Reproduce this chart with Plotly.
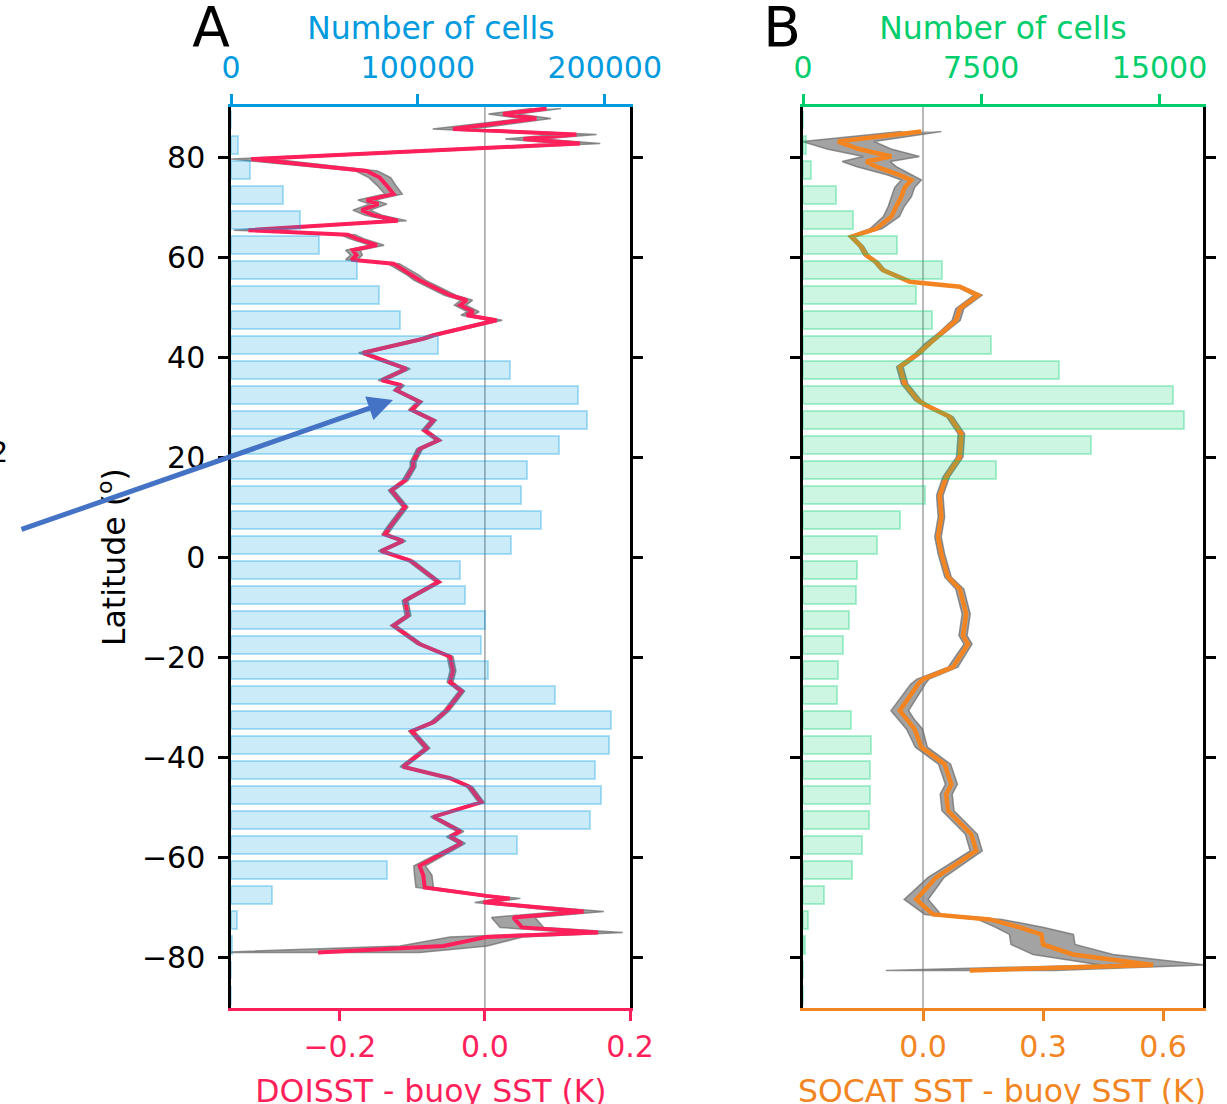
import plotly.graph_objects as go

# ---------------- data ----------------
BIN_LAT = [87.5, 82.5, 77.5, 72.5, 67.5, 62.5, 57.5, 52.5, 47.5, 42.5, 37.5, 32.5,
           27.5, 22.5, 17.5, 12.5, 7.5, 2.5, -2.5, -7.5, -12.5, -17.5, -22.5, -27.5,
           -32.5, -37.5, -42.5, -47.5, -52.5, -57.5, -62.5, -67.5, -72.5, -77.5, -82.5, -87.5]

DOI_COUNTS = [0, 3900, 10100, 27900, 36800, 46900, 67300, 79400, 90600, 110500, 149200, 185600,
              190500, 175400, 158500, 155300, 165900, 149600, 122600, 125300, 135800, 133600, 137700, 173200,
              203400, 202500, 194700, 198200, 191900, 153100, 83300, 21700, 3000, 400, 0, 0]

SOC_COUNTS = [0, 110, 340, 1370, 2090, 3960, 5830, 4740, 5440, 7900, 10770, 15560,
              16020, 12100, 8110, 5150, 4100, 3120, 2280, 2210, 1950, 1690, 1460, 1440,
              2040, 2860, 2820, 2830, 2760, 2480, 2060, 870, 200, 80, 0, 0]

DOI_LAT = [89.7, 88.6, 87.7, 85.6, 84.5, 83.6, 82.7, 79.6, 77.2, 75.9, 74.4, 72.6, 71.4, 70.6,
           69.4, 68.4, 67.3, 65.4, 64.5, 63.7, 62.4, 61.4, 60.4, 59.5, 58.7, 56.4, 55.4, 52.4,
           51.4, 50.4, 49.1, 48.4, 47.4, 44.4, 43.7, 40.9, 39.1, 37.7, 35.4, 34.4, 33.4, 31.1,
           29.5, 27.4, 25.4, 23.4, 21.7, 19.1, 18.1, 15.4, 13.4, 10.1, 6.1, 4.6, 3.3, 1.3,
           -0.6, -4.9, -8.6, -11.6, -13.6, -17.3, -19.8, -22.6, -24.9, -26.7, -30.6, -32.9,
           -34.7, -38.1, -41.8, -44.1, -45.8, -48.9, -51.8, -54.7, -55.8, -57.1, -58.7, -61.6,
           -63.5, -65.9, -67.6, -68.1, -68.9, -70.7, -71.9, -73.9, -74.9, -75.8, -77.6, -78.9]
DOI_DIFF = [0.085, 0.025, 0.071, -0.044, 0.126, 0.053, 0.131, -0.322, -0.163, -0.145, -0.136, -0.126, -0.163, -0.147,
            -0.170, -0.154, -0.120, -0.326, -0.189, -0.177, -0.149, -0.182, -0.177, -0.184, -0.126, -0.099, -0.090, -0.048,
            -0.025, -0.034, -0.016, -0.025, 0.016, -0.071, -0.085, -0.168, -0.136, -0.108, -0.142, -0.115, -0.122, -0.090,
            -0.101, -0.071, -0.083, -0.064, -0.090, -0.099, -0.099, -0.110, -0.129, -0.110, -0.131, -0.138, -0.113, -0.143,
            -0.103, -0.064, -0.110, -0.106, -0.126, -0.090, -0.048, -0.044, -0.048, -0.032, -0.053, -0.071,
            -0.101, -0.080, -0.113, -0.048, -0.021, -0.005, -0.071, -0.034, -0.048, -0.032, -0.053, -0.090,
            -0.085, -0.083, 0.002, 0.034, -0.002, 0.136, 0.039, 0.051, 0.156, 0.002, -0.057, -0.230]
DOI_ERR = [0.02, 0.02, 0.02, 0.028, 0.028, 0.025, 0.028, 0.028, 0.015, 0.015, 0.013, 0.012, 0.012, 0.012,
           0.012, 0.012, 0.012, 0.02, 0.01, 0.01, 0.01, 0.01, 0.008, 0.008, 0.008, 0.008, 0.008, 0.008,
           0.008, 0.008, 0.008, 0.008, 0.008, 0.006, 0.006, 0.006, 0.005, 0.005, 0.005, 0.004, 0.004, 0.004,
           0.004, 0.004, 0.004, 0.004, 0.004, 0.004, 0.004, 0.004, 0.004, 0.004, 0.004, 0.004, 0.004, 0.004,
           0.004, 0.004, 0.004, 0.004, 0.004, 0.004, 0.004, 0.004, 0.004, 0.004, 0.004, 0.004,
           0.004, 0.004, 0.004, 0.004, 0.004, 0.004, 0.004, 0.005, 0.005, 0.005, 0.006, 0.008,
           0.012, 0.012, 0.01, 0.015, 0.012, 0.028, 0.03, 0.03, 0.034, 0.05, 0.06, 0.14]

SOC_LAT = [85.1, 83.1, 81.6, 80.1, 79.1, 78.1, 76.4, 75.4, 73.9, 72.1, 70.1, 68.1, 65.7, 64.1,
           62.1, 60.4, 59.0, 57.4, 55.1, 54.1, 52.4, 49.7, 47.4, 45.1, 42.7, 40.7, 38.1, 34.7,
           31.4, 30.4, 28.1, 24.7, 20.1, 16.1, 12.4, 8.1, 4.1, 0.7, -3.9, -6.3, -11.3, -15.6,
           -17.3, -21.9, -24.3, -25.3, -30.6, -32.3, -34.3, -37.9, -41.3, -43.3, -45.3, -47.3,
           -50.6, -55.3, -58.6, -63.9, -68.3, -71.3, -72.3, -73.9, -75.3, -77.3, -79.3, -81.4, -82.5]
SOC_DIFF = [-0.004, -0.2125, -0.160, -0.079, -0.142, -0.117, -0.058, -0.029, -0.046, -0.054, -0.067, -0.079, -0.117, -0.179,
            -0.154, -0.142, -0.117, -0.100, -0.033, 0.092, 0.1375, 0.092, 0.083, 0.050, 0.0125, -0.0125, -0.058, -0.046,
            -0.0125, 0.008, 0.067, 0.096, 0.092, 0.058, 0.042, 0.046, 0.0375, 0.046, 0.0625, 0.092, 0.108, 0.100,
            0.1125, 0.075, 0.000, -0.0125, -0.058, -0.042, -0.021, -0.004, 0.054, 0.0625, 0.071, 0.058,
            0.0625, 0.121, 0.133, 0.033, -0.017, 0.025, 0.167, 0.242, 0.296, 0.300, 0.375, 0.575, 0.117]
SOC_ERR = [0.05, 0.09, 0.08, 0.07, 0.06, 0.05, 0.03, 0.025, 0.025, 0.025, 0.02, 0.02, 0.015, 0.006,
           0.006, 0.006, 0.006, 0.006, 0.006, 0.008, 0.01, 0.01, 0.01, 0.008, 0.008, 0.008, 0.008, 0.008,
           0.008, 0.008, 0.008, 0.008, 0.008, 0.008, 0.008, 0.008, 0.008, 0.008, 0.008, 0.01, 0.01, 0.01,
           0.01, 0.012, 0.015, 0.018, 0.022, 0.02, 0.02, 0.015, 0.015, 0.015, 0.015, 0.015,
           0.015, 0.015, 0.015, 0.02, 0.03, 0.02, 0.03, 0.06, 0.08, 0.08, 0.1, 0.13, 0.21]

LAT_TICKS = [-80, -60, -40, -20, 0, 20, 40, 60, 80]

# ---------------- styles ----------------
RED = "#FF1F5B"
BLUE = "#009ADE"
GREEN = "#00CD6C"
ORANGE = "#F28522"
FONT = "DejaVu Sans"
W, H = 1227, 1104
TICK_SIZE = 30
TITLE_SIZE = 31.5

XA = [231 / W, 630 / W]
XB = [803 / W, 1203 / W]
YD = [1 - 1008 / H, 1 - 107 / H]


def band(lat, diff, err, xaxis, yaxis):
    lo = [d - e for d, e in zip(diff, err)]
    hi = [d + e for d, e in zip(diff, err)]
    return go.Scatter(x=lo + hi[::-1], y=lat + lat[::-1], mode="lines", fill="toself",
                      fillcolor="rgba(128,128,128,0.72)",
                      line=dict(color="rgba(110,110,110,0.75)", width=1.5),
                      xaxis=xaxis, yaxis=yaxis, hoverinfo="skip", showlegend=False)


fig = go.Figure()
fig.add_trace(band(DOI_LAT, DOI_DIFF, DOI_ERR, "x", "y"))
fig.add_trace(go.Scatter(x=DOI_DIFF, y=DOI_LAT, mode="lines", line=dict(color=RED, width=4),
                         xaxis="x", yaxis="y", showlegend=False))
fig.add_trace(go.Bar(x=DOI_COUNTS, y=BIN_LAT, orientation="h", width=3.6,
                     marker=dict(color="rgba(0,154,222,0.2)", line=dict(color="rgba(0,154,222,0.3)", width=2)),
                     xaxis="x2", yaxis="y", showlegend=False))

fig.add_trace(band(SOC_LAT, SOC_DIFF, SOC_ERR, "x3", "y2"))
fig.add_trace(go.Scatter(x=SOC_DIFF, y=SOC_LAT, mode="lines", line=dict(color=ORANGE, width=4.5),
                         xaxis="x3", yaxis="y2", showlegend=False))
fig.add_trace(go.Bar(x=SOC_COUNTS, y=BIN_LAT, orientation="h", width=3.6,
                     marker=dict(color="rgba(0,205,108,0.2)", line=dict(color="rgba(0,205,108,0.3)", width=2)),
                     xaxis="x4", yaxis="y2", showlegend=False))

# free texts placed on a hidden full-figure pixel axis (no margin pushing)
TXT = [
    ("Number of cells", 431, 31, BLUE, TITLE_SIZE),
    ("Number of cells", 1003, 31, GREEN, TITLE_SIZE),
    ("DOISST - buoy SST (K)", 431, 1094, RED, TITLE_SIZE),
    ("SOCAT SST - buoy SST (K)", 1002, 1094, ORANGE, TITLE_SIZE),
    ("A", 211, 32, "black", 55),
    ("B", 782, 32, "black", 55),
    ("2", -1, 455, "black", 29),
]
for t, px, py, col, sz in TXT:
    fig.add_trace(go.Scatter(x=[px], y=[py], mode="text", text=[t], textposition="middle center",
                             textfont=dict(color=col, size=sz, family=FONT), xaxis="x5", yaxis="y5",
                             hoverinfo="skip", showlegend=False, cliponaxis=True))

common_x = dict(ticks="outside", ticklen=10, tickwidth=2.5, showline=True, linewidth=2.5,
                showgrid=False, zeroline=False)


def xval(domain, rng, tickvals, color):
    return dict(domain=domain, range=rng, tickvals=tickvals, tickformat=".1f", side="bottom",
                tickcolor=color, linecolor=color, tickfont=dict(color=color, size=TICK_SIZE, family=FONT),
                **common_x)


def xcnt(over, anchor, rng, tickvals, color):
    return dict(overlaying=over, anchor=anchor, side="top", range=rng, tickvals=tickvals,
                ticktext=[str(v) for v in tickvals], tickcolor=color, linecolor=color,
                tickfont=dict(color=color, size=TICK_SIZE, family=FONT), ticklabelstandoff=4, **common_x)


def yax(anchor, labels):
    return dict(domain=YD, anchor=anchor, range=[-90, 90], tickvals=LAT_TICKS, ticks="outside",
                ticklen=10, tickwidth=2.5, showline=True, linewidth=2.5, linecolor="black",
                tickcolor="black", mirror="ticks", showgrid=False, zeroline=False,
                showticklabels=labels, ticklabelstandoff=7,
                tickfont=dict(color="black", size=TICK_SIZE, family=FONT))


fig.update_layout(
    width=W, height=H, margin=dict(l=0, r=0, t=0, b=0, autoexpand=False),
    paper_bgcolor="white", plot_bgcolor="rgba(0,0,0,0)",
    font=dict(family=FONT, size=TICK_SIZE, color="black"),
    bargap=0, showlegend=False,
    xaxis=dict(anchor="y", **xval(XA, [-0.35, 0.2], [-0.2, 0.0, 0.2], RED)),
    xaxis2=xcnt("x", "y", [0, 213500], [0, 100000, 200000], BLUE),
    xaxis3=dict(anchor="y2", **xval(XB, [-0.3, 0.7], [0.0, 0.3, 0.6], ORANGE)),
    xaxis4=xcnt("x3", "y2", [0, 16830], [0, 7500, 15000], GREEN),
    yaxis=yax("x", True),
    yaxis2=yax("x3", False),
    xaxis5=dict(domain=[0, 1], range=[0, W], visible=False, anchor="y5", fixedrange=True),
    yaxis5=dict(domain=[0, 1], range=[H, 0], visible=False, anchor="x5", fixedrange=True),
)

for xr in ["x", "x3"]:
    fig.add_shape(type="line", xref=xr, yref="paper", x0=0, x1=0, y0=YD[0], y1=YD[1],
                  line=dict(color="rgba(128,128,128,0.85)", width=1.3), layer="below")

fig.add_annotation(text="Latitude (<sup>o</sup>)", x=112 / W, y=1 - 557 / H, xref="paper", yref="paper",
                   textangle=-90, showarrow=False, xanchor="center", yanchor="middle",
                   font=dict(color="black", size=TITLE_SIZE, family=FONT))

fig.add_annotation(text="", x=393 / W, y=1 - 400 / H, xref="paper", yref="paper",
                   ax=-373, ay=130, axref="pixel", ayref="pixel", showarrow=True,
                   arrowhead=2, arrowsize=1.0, arrowwidth=5, arrowcolor="#4472C4", standoff=0)

fig.write_html("out.html", config={"displayModeBar": False},
               post_script="document.body.style.margin='0';document.body.style.overflow='hidden';")
